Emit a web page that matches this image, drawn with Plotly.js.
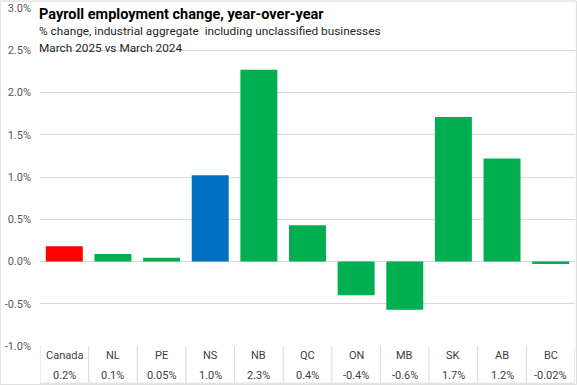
<!DOCTYPE html>
<html><head><meta charset="utf-8">
<script src="https://cdn.plot.ly/plotly-3.0.1.min.js"></script>
<style>html,body{margin:0;padding:0;background:#fff}#chart{width:577px;height:385px}</style>
</head><body><div id="chart"></div>
<script>
const categories = ["Canada","NL","PE","NS","NB","QC","ON","MB","SK","AB","BC"];
const values = [0.18,0.09,0.045,1.02,2.27,0.43,-0.40,-0.57,1.71,1.22,-0.03];
const valueLabels = ["0.2%","0.1%","0.05%","1.0%","2.3%","0.4%","-0.4%","-0.6%","1.7%","1.2%","-0.02%"];
const barColors = ["#ff0000","#00b050","#00b050","#0070c0","#00b050","#00b050","#00b050","#00b050","#00b050","#00b050","#00b050"];
const yTicks = [-1,-0.5,0,0.5,1,1.5,2,2.5,3];

const xs = categories.map((c,i)=>i);
const font = "Roboto, 'Noto Sans', sans-serif";
const annotations = [];
categories.forEach((c,i)=>{
  annotations.push({x:i,xref:'x',y:-0.027,yref:'paper',text:c,showarrow:false,yanchor:'middle',xanchor:'center',font:{size:11,color:'#404040',family:font}});
  annotations.push({x:i,xref:'x',y:-0.088,yref:'paper',text:valueLabels[i],showarrow:false,yanchor:'middle',xanchor:'center',font:{size:11,color:'#404040',family:font}});
});
annotations.push({x:-0.005,xref:'paper',y:0.982,yref:'paper',xanchor:'left',yanchor:'middle',showarrow:false,text:'<b>Payroll employment change, year-over-year</b>',font:{size:14.5,color:'#000',family:font}});
annotations.push({x:-0.005,xref:'paper',y:0.931,yref:'paper',xanchor:'left',yanchor:'middle',showarrow:false,text:'% change, industrial aggregate  including unclassified businesses',font:{size:11.8,color:'#262626',family:font}});
annotations.push({x:-0.005,xref:'paper',y:0.883,yref:'paper',xanchor:'left',yanchor:'middle',showarrow:false,text:'March 2025 vs March 2024',font:{size:11.8,color:'#262626',family:font}});

const shapes = [];
for (let i=0;i<=categories.length;i++){
  shapes.push({type:'line',xref:'x',yref:'paper',x0:i-0.5,x1:i-0.5,y0:0,y1:-0.11,line:{color:'#d9d9d9',width:1}});
}
shapes.push({type:'line',xref:'x',yref:'paper',x0:-0.5,x1:categories.length-0.5,y0:-0.11,y1:-0.11,line:{color:'#d9d9d9',width:1}});
// outer chart border
shapes.push({type:'rect',xref:'paper',yref:'paper',x0:-0.0745,x1:1.0025,y0:-0.1145,y1:1.0205,line:{color:'#d9d9d9',width:1},fillcolor:'rgba(0,0,0,0)',layer:'below'});

const trace = {type:'bar',x:xs,y:values,marker:{color:barColors},hoverinfo:'skip'};
const layout = {
  width:577,height:385,
  margin:{l:40,r:2,t:8,b:39},
  paper_bgcolor:'#fff',plot_bgcolor:'#fff',
  bargap:0.24,showlegend:false,
  font:{family:font},
  xaxis:{range:[-0.5,categories.length-0.5],showticklabels:false,showgrid:false,zeroline:false,ticks:''},
  yaxis:{range:[-1,3],tickvals:yTicks,ticktext:yTicks.map(v=>v.toFixed(1)+'%'),showgrid:true,gridcolor:'#d9d9d9',gridwidth:1,zeroline:false,showline:false,tickfont:{size:11,color:'#595959',family:font},ticks:'',ticklabelstandoff:8},
  annotations:annotations,shapes:shapes
};
Plotly.newPlot('chart',[trace],layout,{displayModeBar:false,staticPlot:true});
</script></body></html>
